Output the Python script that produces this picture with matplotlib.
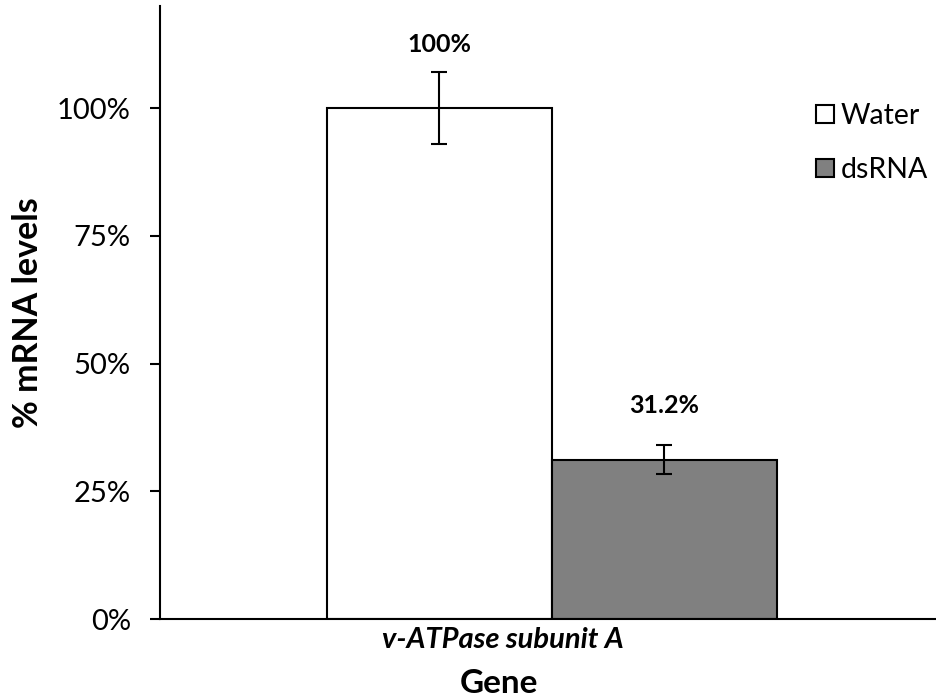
import numpy as np
import matplotlib.pyplot as plt
import matplotlib.transforms as mtransforms
from matplotlib.patches import Patch

plt.rcParams['font.family'] = ['Lato', 'DejaVu Sans']

# data
groups = ["Water", "dsRNA"]
gene = "v-ATPase subunit A"
values = [100.0, 31.2]
errors = [7.1, 2.8]
labels = ["100%", "31.2%"]
colors = ["white", "#808080"]

fig = plt.figure(figsize=(9.36, 7), dpi=100)
ax = fig.add_axes([160 / 936, 81 / 700, 776 / 936, 613 / 700])

width = 0.29
xs = [-width / 2, width / 2]
ax.bar(xs, values, width=width, color=colors, edgecolor="black", linewidth=1.5, zorder=2)
ax.errorbar(xs, values, yerr=errors, fmt="none", ecolor="black", elinewidth=1.5,
            capsize=6, capthick=1.5, zorder=3)

# value labels above the error bars
label_offsets = [20, 29]
for x, v, e, t, off in zip(xs, values, errors, labels, label_offsets):
    ax.annotate(t, (x, v + e), xytext=(0, off), textcoords="offset points",
                ha="center", va="center", fontsize=18, fontweight="bold")

ax.set_xlim(-0.505, 0.495)
ax.set_ylim(0, 120)
ax.set_yticks([0, 25, 50, 75, 100])
ax.set_yticklabels([f"{t}%" for t in [0, 25, 50, 75, 100]])
ax.tick_params(axis="y", direction="out", length=7, width=1.5, labelsize=21, pad=14)

ax.set_xticks([0])
ax.set_xticklabels([gene], fontsize=21, fontweight="bold", fontstyle="italic")
ax.tick_params(axis="x", length=0, pad=6)
shift = mtransforms.ScaledTranslation(-0.49, 0, fig.dpi_scale_trans)
for lab in ax.get_xticklabels():
    lab.set_transform(lab.get_transform() + shift)

ax.set_ylabel("% mRNA levels", fontsize=24.5, fontweight="bold", labelpad=9)
ax.set_xlabel("Gene", fontsize=24, fontweight="bold", labelpad=11)
ax.xaxis.label.set_transform(ax.xaxis.label.get_transform() + shift)

for s in ["top", "right"]:
    ax.spines[s].set_visible(False)
for s in ["left", "bottom"]:
    ax.spines[s].set_linewidth(1.5)

handles = [Patch(facecolor=c, edgecolor="black", linewidth=1.5) for c in colors]
ax.legend(handles, groups, loc="upper left", bbox_to_anchor=(816 / 936, 1 - 103 / 700),
          bbox_transform=fig.transFigure, frameon=False, fontsize=20.5,
          handlelength=0.62, handleheight=0.62, handletextpad=0.25, labelspacing=0.98,
          borderpad=0, borderaxespad=0)

fig.savefig("out.png", dpi=100)
